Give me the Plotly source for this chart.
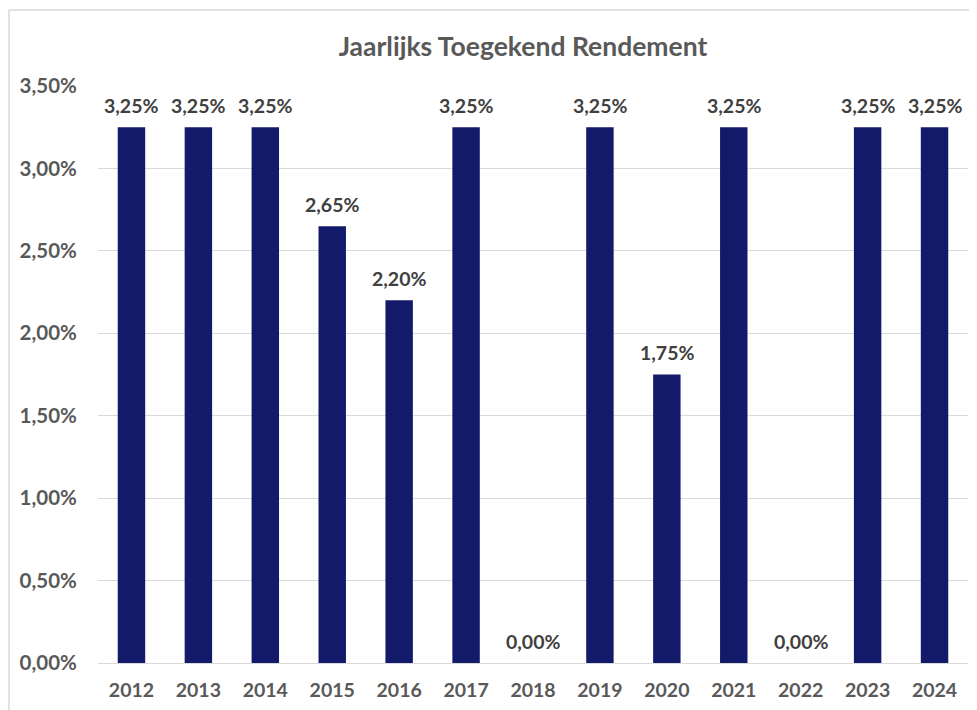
import plotly.graph_objects as go

years = ["2012", "2013", "2014", "2015", "2016", "2017", "2018",
         "2019", "2020", "2021", "2022", "2023", "2024"]
rendement = [0.0325, 0.0325, 0.0325, 0.0265, 0.0220, 0.0325, 0.0,
             0.0325, 0.0175, 0.0325, 0.0, 0.0325, 0.0325]
y_ticks = [0, 0.005, 0.01, 0.015, 0.02, 0.025, 0.03, 0.035]

W, H = 977, 710
OFF = 8  # page body margin
ml, mr, mt, mb = 98 - OFF, 977 - 968 + OFF, 86 - OFF, 710 - 663 + OFF
pw, ph = W - ml - mr, H - mt - mb

def px_x(p):
    return (p - OFF - ml) / pw

def px_y(p):
    return (H - mb - (p - OFF)) / ph

def fmt(v):
    return f"{v * 100:.2f}".replace(".", ",") + "%"

fig = go.Figure(go.Bar(
    x=years, y=rendement,
    marker=dict(color="#131a6a", line=dict(width=0)),
    hovertemplate="%{x}: %{y:.2%}<extra></extra>",
))

# category axis: annotation x uses the category serial number
annotations = [
    dict(x=i, y=v, xref="x", yref="y", text=f"<b>{fmt(v)}</b>",
         showarrow=False, yanchor="middle", yshift=22,
         font=dict(family="Lato", size=19.5, color="#404040"))
    for i, v in enumerate(rendement)
]

fig.update_layout(
    width=W, height=H,
    margin=dict(l=ml, r=mr, t=mt, b=mb),
    paper_bgcolor="white", plot_bgcolor="white",
    separators=",.",
    bargap=0.59,
    showlegend=False,
    annotations=annotations,
    title=dict(text="<b>Jaarlijks Toegekend Rendement</b>",
               x=px_x(523), xref="paper", xanchor="center",
               y=1 - (47 - OFF) / H, yanchor="middle",
               font=dict(family="Lato", size=26.5, color="#595959")),
    xaxis=dict(type="category", range=[-0.5, len(years) - 0.5], automargin=False,
               showgrid=False, showline=False, zeroline=False,
               ticks="outside", ticklen=10, tickcolor="rgba(0,0,0,0)",
               tickfont=dict(family="Lato", size=19.5, color="#595959", weight="bold"),
               fixedrange=True),
    yaxis=dict(range=[0, 0.035], tickvals=y_ticks, tickformat=".2%", automargin=False,
               showgrid=True, gridcolor="#d9d9d9", gridwidth=1,
               zeroline=True, zerolinecolor="#d9d9d9", zerolinewidth=1,
               ticks="outside", ticklen=16, tickcolor="rgba(0,0,0,0)",
               tickfont=dict(family="Lato", size=20.5, color="#595959", weight="bold"),
               fixedrange=True),
    shapes=[
        dict(type="line", xref="paper", yref="paper",
             x0=px_x(9), x1=px_x(9), y0=px_y(10), y1=px_y(730),
             line=dict(color="#d9d9d9", width=1.5)),
        dict(type="line", xref="paper", yref="paper",
             x0=px_x(9), x1=px_x(1000), y0=px_y(10), y1=px_y(10),
             line=dict(color="#d9d9d9", width=1.5)),
    ],
)

fig.write_html("out.html")
